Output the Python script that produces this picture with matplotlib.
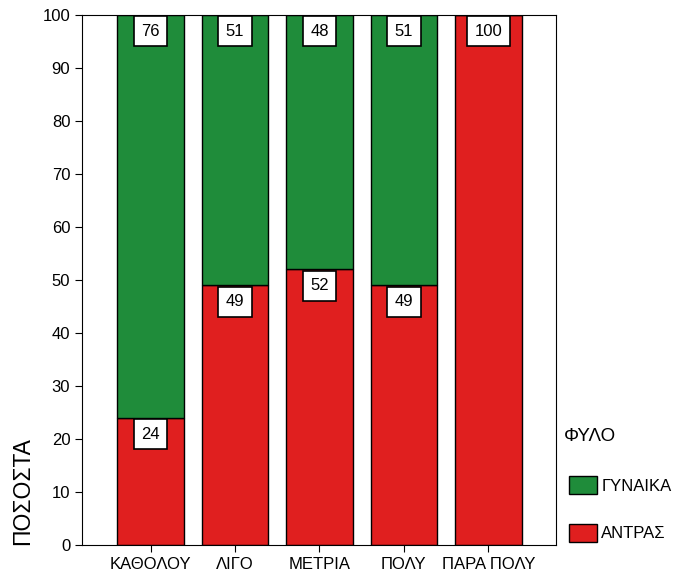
import matplotlib
matplotlib.use("Agg")
import matplotlib.pyplot as plt
from matplotlib.patches import Patch

plt.rcParams['font.family'] = ['Liberation Sans', 'DejaVu Sans']

categories = ["ΚΑΘΟΛΟΥ", "ΛΙΓΟ", "ΜΕΤΡΙΑ", "ΠΟΛΥ", "ΠΑΡΑ ΠΟΛΥ"]
men = [24, 49, 52, 49, 100]
women = [76, 51, 48, 51, 0]

red = "#e01f1f"
green = "#1f8c3a"

fig = plt.figure(figsize=(6.73, 5.71), dpi=100)
ax = fig.add_axes([0.122, 0.0455, 0.704, 0.9285])

x = range(len(categories))
ax.bar(x, men, width=0.79, color=red, edgecolor="black", linewidth=1)
ax.bar(x, women, width=0.79, bottom=men, color=green, edgecolor="black", linewidth=1)

box = dict(boxstyle="square,pad=0.45", facecolor="white", edgecolor="black", linewidth=1.2)
for i in x:
    # label just under the top of each segment
    ax.text(i, men[i] - 1.7, str(men[i]), ha="center", va="top", fontsize=12, bbox=box)
    if women[i] > 0:
        ax.text(i, 98.3, str(women[i]), ha="center", va="top", fontsize=12, bbox=box)

ax.set_xlim(-0.81, 4.8)
ax.set_ylim(0, 100)
ax.set_yticks(range(0, 101, 10))
ax.set_xticks(list(x))
ax.set_xticklabels(categories, fontsize=12)
ax.tick_params(axis="y", labelsize=12, direction="out", length=5)
ax.tick_params(axis="x", direction="out", length=5)

fig.text(0.033, 0.14, "ΠΟΣΟΣΤΑ", rotation=90, ha="center", va="center", fontsize=16.5)

fig.text(0.838, 0.235, "ΦΥΛΟ", fontsize=13.5, ha="left", va="center")
handles = [Patch(facecolor=green, edgecolor="black", label="ΓΥΝΑΙΚΑ"),
           Patch(facecolor=red, edgecolor="black", label="ΑΝΤΡΑΣ")]
fig.legend(handles=handles, loc="upper left", bbox_to_anchor=(0.845, 0.166),
           frameon=False, fontsize=12, handlelength=1.7, handleheight=1.3,
           handletextpad=0.25, labelspacing=1.75, borderpad=0, borderaxespad=0)

fig.savefig("out.png", dpi=100)
